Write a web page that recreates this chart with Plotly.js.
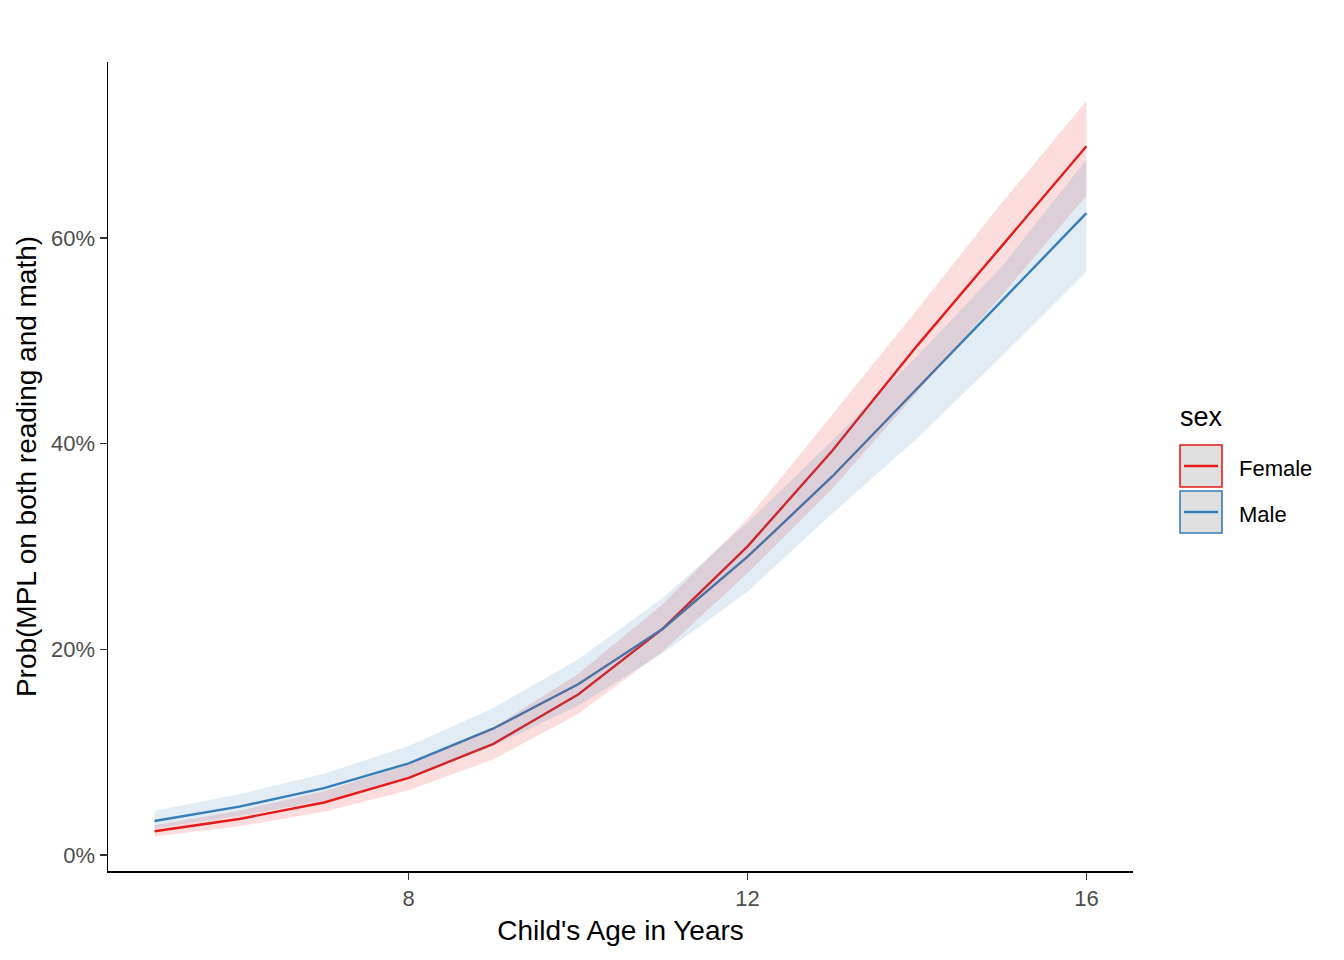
<!DOCTYPE html>
<html>
<head>
<meta charset="utf-8">
<script src="https://cdn.plot.ly/plotly-3.0.1.min.js"></script>
<style>
  html, body { margin: 0; padding: 0; background: #fff; }
  #plot { width: 1344px; height: 960px; }
</style>
</head>
<body>
<div id="plot"></div>
<script>
// ages on the x axis
var ages = [5, 6, 7, 8, 9, 10, 11, 12, 13, 14, 15, 16];

// predicted probability (%) with confidence band
var female   = [2.3, 3.5, 5.1, 7.5, 10.8, 15.6, 22.0, 30.0, 39.3, 49.5, 59.2, 68.9];
var femaleLo = [1.8, 2.8, 4.2, 6.3, 9.3, 13.7, 19.8, 27.4, 35.6, 45.0, 54.4, 64.1];
var femaleHi = [2.9, 4.3, 6.2, 8.8, 12.4, 17.6, 24.4, 32.7, 42.8, 53.0, 63.4, 73.3];

var male   = [3.3, 4.7, 6.5, 8.9, 12.3, 16.6, 22.0, 29.0, 36.8, 45.3, 53.8, 62.4];
var maleLo = [2.6, 3.8, 5.3, 7.6, 10.6, 14.5, 19.6, 25.6, 33.2, 40.5, 48.5, 56.7];
var maleHi = [4.3, 5.9, 7.9, 10.6, 14.3, 19.0, 25.0, 32.3, 40.3, 48.5, 57.2, 67.6];

var xTicks = [8, 12, 16];
var yTicks = [0, 20, 40, 60];
var yTickLabels = ["0%", "20%", "40%", "60%"];

var groups = ["Female", "Male"];
var colors = ["#E41A1C", "#377EB8"];
var fills = ["rgba(228,26,28,0.15)", "rgba(55,126,184,0.15)"];

// ribbon polygon: upper edge forward, lower edge backward
function ribbon(lo, hi, fill, name) {
    return {
        x: ages.concat(ages.slice().reverse()),
        y: hi.concat(lo.slice().reverse()),
        type: 'scatter', mode: 'lines', fill: 'toself',
        fillcolor: fill, line: { width: 0, color: 'rgba(0,0,0,0)' },
        hoverinfo: 'skip', showlegend: false, name: name
    };
}

function line(y, color, name) {
    return {
        x: ages, y: y, type: 'scatter', mode: 'lines',
        line: { color: color, width: 2.4 }, showlegend: false, name: name
    };
}

var data = [
    line(female, colors[0], groups[0]),
    line(male, colors[1], groups[1]),
    ribbon(femaleLo, femaleHi, fills[0], groups[0]),
    ribbon(maleLo, maleHi, fills[1], groups[1])
];

var font = "Liberation Sans, Arial, sans-serif";

// hand-made legend in the ggplot style (grey key, coloured border, line)
var shapes = [], annotations = [];
var keyTop = [0.5266, 0.4697];
for (var i = 0; i < groups.length; i++) {
    var y1 = keyTop[i], y0 = y1 - 0.0519, ym = (y0 + y1) / 2;
    shapes.push({ type: 'rect', xref: 'paper', yref: 'paper',
        x0: 1.0459, x1: 1.0868, y0: y0, y1: y1,
        fillcolor: '#e0e0e0', line: { color: colors[i], width: 1.6 } });
    shapes.push({ type: 'line', xref: 'paper', yref: 'paper',
        x0: 1.0498, x1: 1.0829, y0: ym, y1: ym,
        line: { color: colors[i], width: 2.4 } });
    annotations.push({ xref: 'paper', yref: 'paper', x: 1.1015, y: ym - 0.003,
        xanchor: 'left', yanchor: 'middle', showarrow: false, text: groups[i],
        font: { family: font, size: 22, color: '#000' } });
}
annotations.push({ xref: 'paper', yref: 'paper', x: 1.0440, y: 0.5612,
    xanchor: 'left', yanchor: 'middle', showarrow: false, text: 'sex',
    font: { family: font, size: 27, color: '#000' } });

var layout = {
    width: 1344, height: 960,
    margin: { l: 108, r: 211, t: 62, b: 89 },
    paper_bgcolor: '#fff', plot_bgcolor: '#fff',
    font: { family: font },
    showlegend: false,
    xaxis: {
        range: [4.45, 16.55], showgrid: false, zeroline: false,
        showline: true, linecolor: '#000', linewidth: 1.5,
        ticks: 'outside', ticklen: 7, tickwidth: 1.5, tickcolor: '#333',
        tickvals: xTicks, tickfont: { family: font, size: 22, color: '#4D4D4D' },
        title: { text: "Child's Age in Years", standoff: 10,
                 font: { family: font, size: 28, color: '#000' } }
    },
    yaxis: {
        range: [-1.56, 77.1], showgrid: false, zeroline: false,
        showline: true, linecolor: '#000', linewidth: 1.5,
        ticks: 'outside', ticklen: 7, tickwidth: 1.5, tickcolor: '#333',
        tickvals: yTicks, ticktext: yTickLabels,
        tickfont: { family: font, size: 22, color: '#4D4D4D' },
        title: { text: "Prob(MPL on both reading and math)", standoff: 6,
                 font: { family: font, size: 28, color: '#000' } }
    },
    shapes: shapes,
    annotations: annotations
};

Plotly.newPlot('plot', data, layout, { displayModeBar: false, staticPlot: true });
</script>
</body>
</html>
